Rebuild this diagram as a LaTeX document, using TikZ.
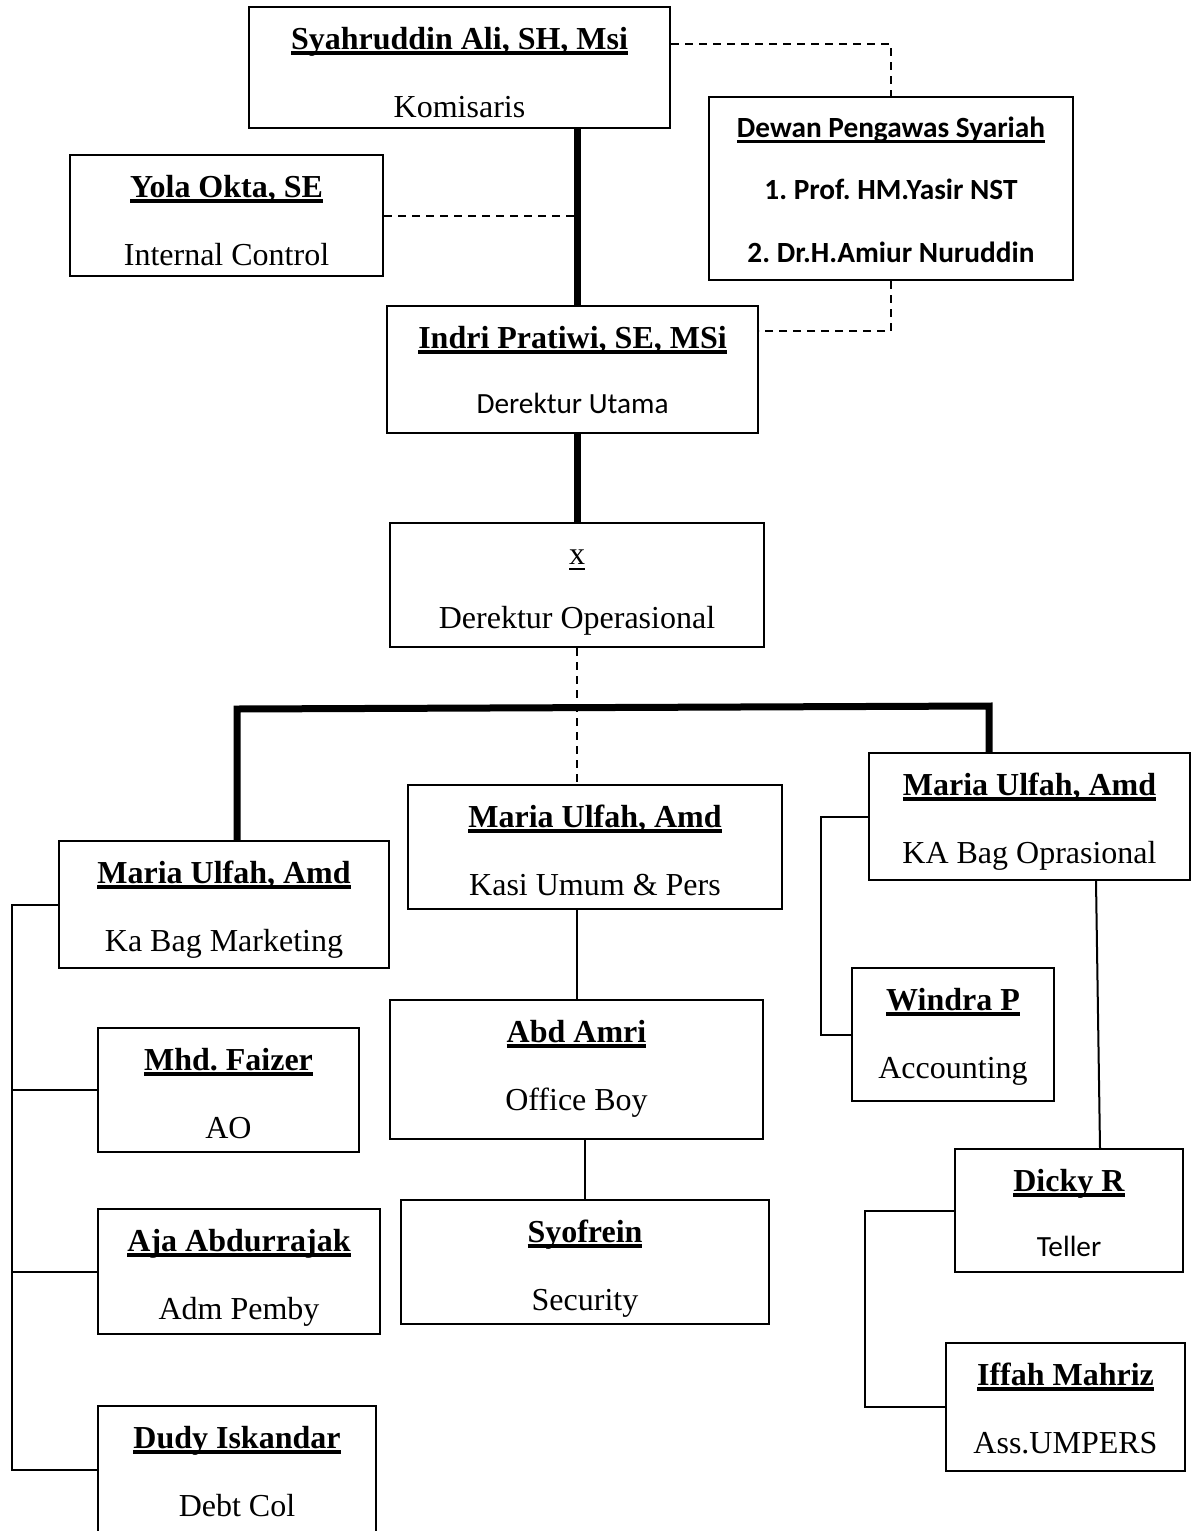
\documentclass[tikz,border=0pt]{standalone}
\usepackage{fontspec}
\setmainfont{Liberation Serif}
\newfontfamily\calibri{Carlito}
\usetikzlibrary{calc}

% garis bawah tebal seperti di Word
\newsavebox\teksbox
\newcommand{\garisbawah}[2][3.5pt]{\sbox\teksbox{#2}\rlap{\rule[-5.5pt]{\wd\teksbox}{#1}}\usebox\teksbox}
% isi kotak: nama (tebal, bergaris bawah) dan jabatan
\newcommand{\jabatan}[3][0pt]{\vtop{\halign{\hfil##\hfil\cr\garisbawah{\textbf{#2}}\cr\noalign{\vskip#1}#3\cr}}}
\newcommand{\teksans}[1]{{\calibri\fontsize{29.3}{68}\selectfont #1}}

\begin{document}
\begin{tikzpicture}[x=1pt,y=1pt,yscale=-1,
    kotak/.style={draw,line width=2pt,inner sep=0pt,text height=42pt,font=\fontsize{32}{68}\selectfont\frenchspacing},
    garis/.style={line width=2pt},
    tebal/.style={line width=7pt},
    putus/.style={line width=2pt,dash pattern=on 8pt off 6pt}]
    \useasboundingbox (0,0) rectangle (1195,1531);

    % Kotak atas
    \node[kotak,minimum width=421pt,text depth=79pt] (syah) at (459.5,67.5) {\jabatan{Syahruddin Ali, SH, Msi}{Komisaris}};
    \node[kotak,minimum width=364pt,text height=40pt,text depth=143pt,font={\calibri\fontsize{29.3}{62.5}\selectfont\bfseries\frenchspacing}] (dewan) at (891,188.5)
        {\vtop{\halign{\hfil#\hfil\cr\garisbawah[2.5pt]{Dewan Pengawas Syariah}\cr 1. Prof. HM.Yasir NST\cr 2. Dr.H.Amiur Nuruddin\cr}}};
    \node[kotak,minimum width=313pt,text depth=79pt] (yola) at (226.5,215.5) {\jabatan{Yola Okta, SE}{Internal Control}};
    \node[kotak,minimum width=371pt,text depth=85pt] (indri) at (572.5,369.5) {\jabatan[-3pt]{Indri Pratiwi, SE, MSi}{\teksans{Derektur Utama}}};
    \node[kotak,minimum width=374pt,text height=41pt,text depth=83pt] (dirops) at (577,585)
        {\vtop{\halign{\hfil#\hfil\cr\garisbawah[2pt]{x}\cr\noalign{\vskip-4pt}Derektur Operasional\cr}}};

    % Kepala bagian
    \node[kotak,minimum width=330pt,text depth=85pt] (marketing) at (224,904.5) {\jabatan{Maria Ulfah, Amd}{Ka Bag Marketing}};
    \node[kotak,minimum width=374pt,text depth=82pt] (umum) at (595,847) {\jabatan{Maria Ulfah, Amd}{Kasi Umum \& Pers}};
    \node[kotak,minimum width=321pt,text depth=85pt] (oprasional) at (1029.5,816.5) {\jabatan{Maria Ulfah, Amd}{KA Bag Oprasional}};

    % Staf marketing
    \node[kotak,minimum width=261pt,text depth=82pt] (faizer) at (228.5,1090) {\jabatan{Mhd. Faizer}{AO}};
    \node[kotak,minimum width=282pt,text depth=83pt] (aja) at (239,1271.5) {\jabatan{Aja Abdurrajak}{Adm Pemby}};
    \node[kotak,minimum width=278pt,text depth=86pt] (dudy) at (237,1470) {\jabatan{Dudy Iskandar}{Debt Col}};

    % Staf umum
    \node[kotak,minimum width=373pt,text depth=97pt] (amri) at (576.5,1069.5) {\jabatan{Abd Amri}{Office Boy}};
    \node[kotak,minimum width=368pt,text depth=82pt] (syofrein) at (585,1262) {\jabatan{Syofrein}{Security}};

    % Staf operasional
    \node[kotak,minimum width=202pt,text depth=91pt] (windra) at (953,1034.5) {\jabatan{Windra P}{Accounting}};
    \node[kotak,minimum width=228pt,text depth=81pt] (dicky) at (1069,1210.5) {\jabatan[-3pt]{Dicky R}{\teksans{Teller}}};
    \node[kotak,minimum width=239pt,text depth=86pt] (iffah) at (1065.5,1407) {\jabatan{Iffah Mahriz}{Ass.UMPERS}};

    % Garis komando
    \draw[tebal] (syah.south -| dirops.north) -- (indri.north -| dirops.north);
    \draw[tebal] (indri.south -| dirops.north) -- (dirops.north);
    \coordinate (busL) at (237,709);
    \coordinate (busR) at (989,706);
    \draw[tebal] (marketing.north -| busL) -- (busL) -- (busR) -- (oprasional.north -| busR);

    % Garis koordinasi
    \draw[putus] (yola.east) -- (yola.east -| dirops.north);
    \draw[putus] ([yshift=-23.5pt]syah.east) -| (dewan.north);
    \draw[putus] (dewan.south) |- ([yshift=-38.5pt]indri.east);
    \draw[putus] (dirops.south) -- (dirops.south |- umum.north);

    % Garis staf
    \draw[garis] (amri.north |- umum.south) -- (amri.north);
    \draw[garis] (syofrein.north |- amri.south) -- (syofrein.north);
    \draw[garis] (marketing.west) -- (12,904.5) |- (dudy.west);
    \draw[garis] (12,1090) -- (faizer.west);
    \draw[garis] (12,1271.5) -- (aja.west);
    \draw[garis] (oprasional.west) -- ++(-47,0) |- (windra.west);
    \draw[garis] ([xshift=66.5pt]oprasional.south) -- ([xshift=31pt]dicky.north);
    \draw[garis] (dicky.west) -- ++(-89,0) |- (iffah.west);

\end{tikzpicture}
\end{document}
